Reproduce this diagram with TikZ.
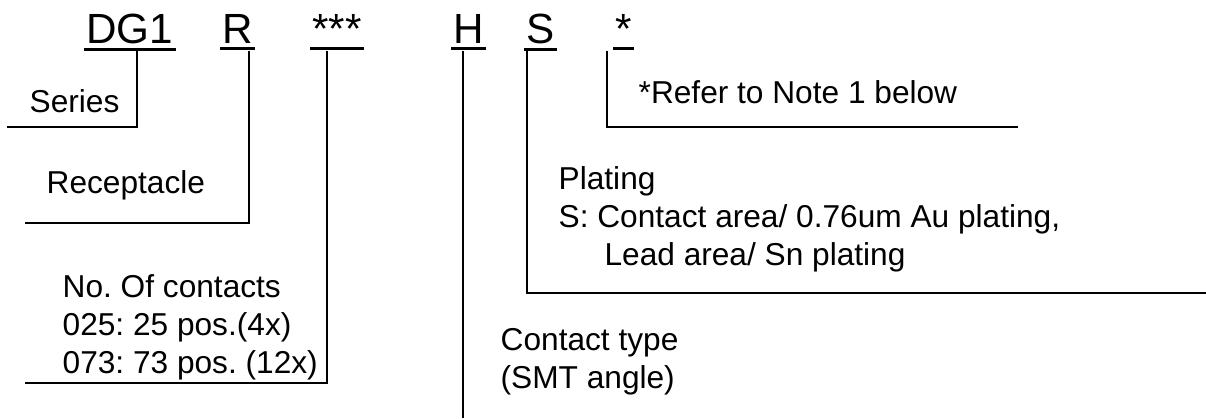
\documentclass[tikz,border=0pt]{standalone}
\usepackage{fontspec}
\setmainfont{Liberation Sans}
\frenchspacing
\usetikzlibrary{positioning}
\tikzset{
    code/.style = {anchor=base west, inner xsep=0.5pt, inner ysep=1.4pt, font=\fontsize{12}{14}\selectfont},
    desc/.style = {anchor=base west, inner sep=0pt, align=left, font=\fontsize{9}{10.8}\selectfont},
    uline/.style = {line width=0.85pt},
    lead/.style = {line width=0.5pt, shorten <=0.6pt},
}

\begin{document}
\begin{tikzpicture}[x=0.01cm, y=-0.01cm]
\useasboundingbox (0,0) rectangle (1206,418);

% part number
\node[code] (dg1)  at (84,43)  {DG1};
\node[code] (r)    at (220,43) {R};
\node[code] (num)  at (310,43) {***};
\node[code] (h)    at (451,43) {H};
\node[code] (s)    at (524,43) {S};
\node[code] (note) at (613,43) {*};
\foreach \n in {dg1,r,num,h,s,note}
  \draw[uline] (\n.south west) -- (\n.south east);

% descriptions (base = last line)
\node[desc] (series)   at (29,112)  {Series};
\node[desc] (recept)   at (46,193)  {Receptacle};
\node[desc] (contacts) at (62,373)  {No. Of contacts\\025: 25 pos.(4x)\\073: 73 pos. (12x)};
\node[desc] (ctype)    at (500,388) {Contact type\\(SMT angle)};
\node[desc] (plating)  at (558,265) {Plating\\S: Contact area/ 0.76um Au plating,\\\hspace*{1.45em}Lead area/ Sn plating};
\node[desc] (refer)    at (638,103) {*Refer to Note 1 below};

% leader lines
\coordinate (dg1-c)  at (137,127);  \coordinate (dg1-e)  at (7,127);
\coordinate (r-c)    at (249,223);  \coordinate (r-e)    at (25,223);
\coordinate (num-c)  at (327,383);  \coordinate (num-e)  at (25,383);
\coordinate (h-e)    at (463,418);
\coordinate (s-c)    at (527,293);  \coordinate (s-e)    at (1206,293);
\coordinate (note-c) at (607,127);  \coordinate (note-e) at (1018,127);

\draw[lead] (dg1.south -| dg1-c) -- (dg1-c) -- (dg1-e);
\draw[lead] (r.south -| r-c) -- (r-c) -- (r-e);
\draw[lead] (num.south -| num-c) -- (num-c) -- (num-e);
\draw[lead] (h.south -| h-e) -- (h-e);
\draw[lead] (s.south -| s-c) -- (s-c) -- (s-e);
\draw[lead] (note.south -| note-c) -- (note-c) -- (note-e);

\end{tikzpicture}
\end{document}
